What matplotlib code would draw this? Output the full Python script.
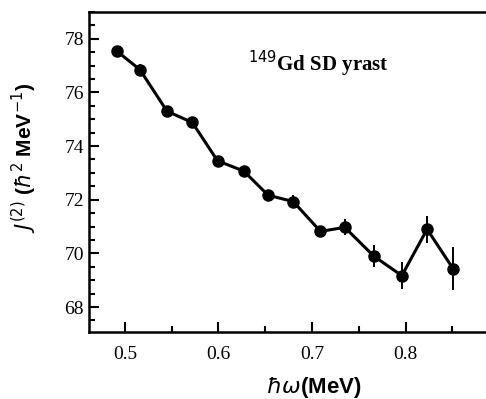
import matplotlib
matplotlib.use('Agg')
import matplotlib.pyplot as plt
from matplotlib.ticker import MultipleLocator

# rotational frequency (MeV) and dynamic moment of inertia J(2)
hw = [0.491, 0.516, 0.545, 0.572, 0.599, 0.627, 0.653, 0.680,
      0.709, 0.735, 0.766, 0.796, 0.823, 0.851]
j2 = [77.55, 76.85, 75.3, 74.88, 73.45, 73.07, 72.17, 71.93,
      70.82, 70.97, 69.9, 69.17, 70.9, 69.42]
j2_err = [0.15, 0.2, 0.2, 0.2, 0.15, 0.15, 0.15, 0.25,
          0.2, 0.3, 0.4, 0.5, 0.5, 0.8]

fig = plt.figure(figsize=(4.86, 3.99), dpi=100)
ax = fig.add_axes([0.183, 0.168, 0.817, 0.802])

ax.errorbar(hw, j2, yerr=j2_err, color='black', marker='o', markersize=8,
            linewidth=2.2, elinewidth=1.4, capsize=0)

ax.set_xlim(0.4615, 0.886)
ax.set_ylim(67.07, 79.0)

ax.xaxis.set_major_locator(MultipleLocator(0.1))
ax.xaxis.set_minor_locator(MultipleLocator(0.05))
ax.yaxis.set_major_locator(MultipleLocator(2))
ax.yaxis.set_minor_locator(MultipleLocator(0.5))
ax.xaxis.set_major_formatter(plt.FuncFormatter(lambda v, p: f'{v:.1f}'))

ax.spines['right'].set_visible(False)
for s in ['left', 'bottom', 'top']:
    ax.spines[s].set_linewidth(1.8)

ax.tick_params(which='both', direction='in', top=False, right=False, width=1.5)
ax.tick_params(which='major', length=7)
ax.tick_params(which='minor', length=4.5)
ax.tick_params(axis='x', which='major', pad=10)
for lab in ax.get_xticklabels() + ax.get_yticklabels():
    lab.set_fontfamily('Liberation Serif')
    lab.set_fontsize(14)

ax.set_xlabel(r'$\hbar\omega$(MeV)', fontsize=16, fontweight='bold',
              family='Liberation Sans')
ax.xaxis.set_label_coords(0.565, -0.135)
ax.set_ylabel(r'$J^{(2)}$ ($\hbar^2$ MeV$^{-1}$)', fontsize=15,
              fontweight='bold', family='Liberation Sans')
ax.yaxis.set_label_coords(-0.125, 0.545)

ax.text(0.4, 0.838, r'$^{149}$Gd SD yrast', transform=ax.transAxes,
        fontsize=15, fontweight='bold', family='Liberation Serif',
        va='center', ha='left')

fig.savefig('out.png', dpi=100)
